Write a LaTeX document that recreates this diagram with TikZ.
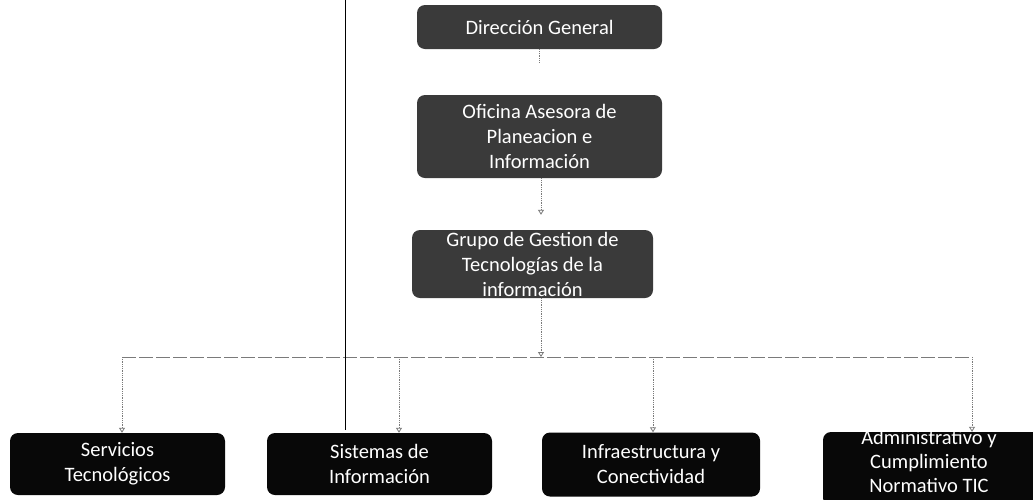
\documentclass[tikz,border=0pt]{standalone}
\usepackage{fontspec}
\setmainfont{Carlito}
\usetikzlibrary{arrows.meta}
\definecolor{topfill}{HTML}{3A3A3A}
\definecolor{botfill}{HTML}{080808}
\definecolor{linegray}{HTML}{7A7A7A}
\tikzset{
  x=1pt, y=-1pt,
  box/.style={rounded corners=8pt, text=white, align=center, inner sep=0pt,
    font=\fontsize{20.5}{25}\selectfont},
  topbox/.style={box, fill=topfill},
  botbox/.style={box, fill=botfill},
  conn/.style={draw=linegray, densely dotted, line width=0.8pt},
  bus/.style={draw=linegray, dashed, dash pattern=on 14pt off 3pt, line width=1pt},
  tip/.style={-{Triangle[open,length=5pt,width=6pt]}},
}
\begin{document}
\begin{tikzpicture}
\useasboundingbox (0,0) rectangle (1033,499);
\fill[white] (0,0) rectangle (1033,499);

% top column
\node[topbox, minimum width=245pt, minimum height=44pt] (dir) at (539.5,27) {Dirección General};
\node[topbox, minimum width=245pt, minimum height=83pt] (ofi) at (539.5,136.5) {Oficina Asesora de\\Planeacion e\\Información};
\node[topbox, minimum width=241pt, minimum height=68pt] (grp) at (532.5,264) {Grupo de Gestion de\\Tecnologías de la\\información};

% bottom row
\node[botbox, minimum width=215pt, minimum height=62pt] (serv) at (117.5,464) {Servicios\\Tecnológicos};
\node[botbox, minimum width=225pt, minimum height=62pt] (sis) at (379.5,464) {Sistemas de\\Información};
\node[botbox, minimum width=218pt, minimum height=64pt] (inf) at (651,464.5) {Infraestructura y\\Conectividad};
\node[botbox, minimum width=220pt, minimum height=74pt] (adm) at (933,469) {};
\node[text=white, align=center, font=\fontsize{20.5}{24}\selectfont, inner sep=0pt] (admtxt) at (929,461.5) {Administrativo y\\Cumplimiento\\Normativo TIC};

% connectors
\coordinate (dstub) at (539.5,62);
\draw[conn] (dir.south) -- (dstub);
\draw[conn, tip, shorten >=15pt] (ofi.south -| 541,0) -- (grp.north -| 541,0);
\coordinate (hub) at (541,357);
\draw[conn, tip] (grp.south -| hub) -- (hub);
\coordinate (b1) at (122,357);
\coordinate (b2) at (399,357);
\coordinate (b3) at (653,357);
\coordinate (b4) at (972,357);
\draw[bus] (b1) -- (b4);
\draw[conn, tip] (b1) -- (b1 |- serv.north);
\draw[conn, tip] (b2) -- (b2 |- sis.north);
\draw[conn, tip] (b3) -- (b3 |- inf.north);
\draw[conn, tip] (b4) -- (b4 |- adm.north);

% scan line
\coordinate (s1) at (345,0);
\coordinate (s2) at (345,430);
\draw[black, line width=0.8pt] (s1) -- (s2);
\end{tikzpicture}
\end{document}
